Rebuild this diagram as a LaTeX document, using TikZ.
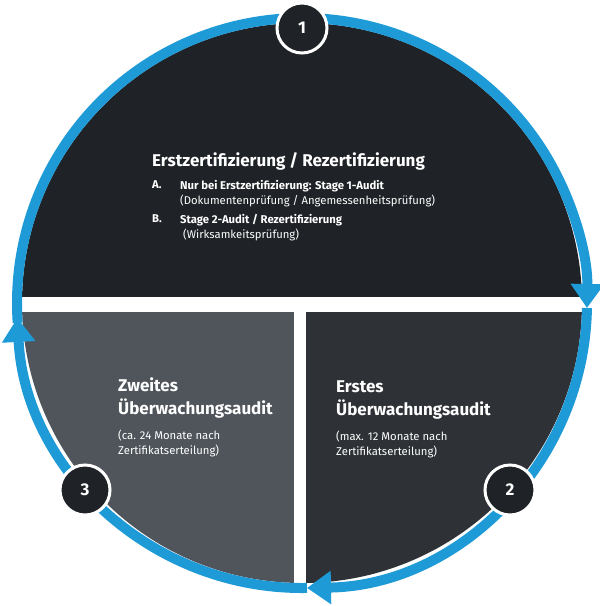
\documentclass[tikz,border=0pt]{standalone}
\usepackage{fontspec}
\setmainfont{Fira Sans}
\usetikzlibrary{arrows.meta}
\definecolor{ringblue}{HTML}{1E9AD6}
\definecolor{segtop}{HTML}{1F2226}
\definecolor{segleft}{HTML}{50555C}
\definecolor{segright}{HTML}{2E3135}
\tikzstyle{ring} = [draw=ringblue,line width=10pt,-{Triangle[length=24pt,width=32pt]}]
\tikzstyle{badge} = [circle,fill=segtop,draw=white,line width=3pt,minimum size=50pt,text=white,font=\bfseries\fontsize{17}{17}\selectfont]
\tikzstyle{head} = [align=left,anchor=north west,text=white,inner sep=0pt,font=\bfseries\fontsize{17}{23}\selectfont]
\tikzstyle{note} = [align=left,anchor=north west,text=white,inner sep=0pt,font=\fontsize{11.3}{15}\selectfont]
\begin{document}
\begin{tikzpicture}[x=1pt,y=-1pt]
				\useasboundingbox (0,0) rectangle (600,606);
				\coordinate (c) at (302,303);
				\begin{scope}
					\clip (c) circle (280);
					\fill [segtop] (0,0) rectangle (600,297);
					\fill [segleft] (0,312) rectangle (294,606);
					\fill [segright] (306,312) rectangle (600,606);
				\end{scope}
				\draw [ring] (c) ++(-90:285) arc (-90:1:285);
				\draw [ring] (c) ++(1:285) arc (1:89:285);
				\draw [ring] (c) ++(89:285) arc (89:177:285);
				\draw [ring,-] (c) ++(176:285) arc (176:270:285);
				\node (b1) [badge] at (302,28) {1};
				\node (b2) [badge] at (510,490) {2};
				\node (b3) [badge] at (85,490) {3};
				\node (title) [head] at (152,152) {Erstzertifizierung / Rezertifizierung};
				\node (la) [note,font=\bfseries\fontsize{11.3}{15}\selectfont] at (152,180) {A.};
				\node (ta) [note] at (180,180) {\textbf{Nur bei Erstzertifizierung: Stage 1-Audit}\\(Dokumentenprüfung / Angemessenheitsprüfung)};
				\node (lb) [note,font=\bfseries\fontsize{11.3}{15}\selectfont] at (152,214) {B.};
				\node (tb) [note] at (180,214) {\textbf{Stage 2-Audit / Rezertifizierung}\\\ (Wirksamkeitsprüfung)};
				\node (zw) [head] at (118,378) {Zweites\\Überwachungsaudit};
				\node (zwn) [note] at (118,430) {(ca. 24 Monate nach\\Zertifikatserteilung)};
				\node (er) [head] at (336,381) {Erstes\\Überwachungsaudit};
				\node (ern) [note] at (336,431) {(max. 12 Monate nach\\Zertifikatserteilung)};
			\end{tikzpicture}
\end{document}
